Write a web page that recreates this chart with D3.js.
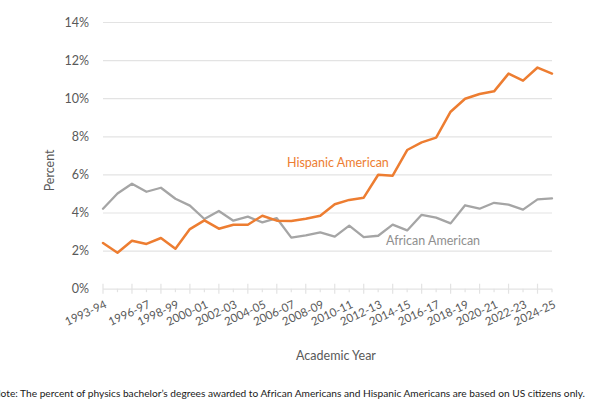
<!DOCTYPE html>
<html>
<head>
<meta charset="utf-8">
<script src="https://cdn.jsdelivr.net/npm/d3@7"></script>
<style>
  html, body { margin: 0; padding: 0; background: #fff; }
  svg { display: block; font-family: Lato, "Open Sans", sans-serif; }
</style>
</head>
<body>
<svg id="chart" width="615" height="410"></svg>
<script>
// ---- data ----
const years = ["1993-94","1994-95","1995-96","1996-97","1997-98","1998-99","1999-00","2000-01",
  "2001-02","2002-03","2003-04","2004-05","2005-06","2006-07","2007-08","2008-09","2009-10",
  "2010-11","2011-12","2012-13","2013-14","2014-15","2015-16","2016-17","2017-18","2018-19",
  "2019-20","2020-21","2021-22","2022-23","2023-24","2024-25"];
const hispanic = [2.40,1.89,2.52,2.35,2.66,2.10,3.13,3.59,3.15,3.36,3.36,3.83,3.57,3.55,3.67,3.83,
  4.43,4.66,4.78,5.98,5.93,7.28,7.68,7.93,9.29,9.97,10.22,10.36,11.29,10.92,11.61,11.29];
const african = [4.20,5.00,5.51,5.09,5.30,4.72,4.36,3.66,4.08,3.57,3.78,3.48,3.70,2.68,2.80,2.96,
  2.73,3.31,2.71,2.78,3.36,3.06,3.88,3.73,3.43,4.38,4.20,4.51,4.41,4.15,4.69,4.74];
const xTickLabels = ["1993-94","1996-97","1998-99","2000-01","2002-03","2004-05","2006-07","2008-09",
  "2010-11","2012-13","2014-15","2016-17","2018-19","2020-21","2022-23","2024-25"];
const yTicks = [0,2,4,6,8,10,12,14];
const seriesNames = ["Hispanic American","African American"];
const yTitle = "Percent";
const xTitle = "Academic Year";
const note = "Note: The percent of physics bachelor\u2019s degrees awarded to African Americans and Hispanic Americans are based on US citizens only.";

// ---- layout ----
const svg = d3.select("#chart");
const pL = 103, pR = 552, pT = 22, pB = 288.7;
const orange = "#ED7D31", gray = "#A5A5A5", textGray = "#595959", gridC = "#e3e3e3";

const x = d3.scalePoint().domain(years).range([pL, pR]);
const y = d3.scaleLinear().domain([0, 14]).range([pB, pT]);

// gridlines + y labels
const yAxis = svg.append("g")
  .attr("transform", `translate(${pL},0)`)
  .call(d3.axisLeft(y).tickValues(yTicks).tickSize(-(pR - pL)).tickPadding(14)
    .tickFormat(d => d + "%"));
yAxis.select(".domain").remove();
yAxis.selectAll(".tick line").attr("stroke", gridC).attr("stroke-width", 1.2);
yAxis.selectAll(".tick text").attr("fill", textGray).style("font-size", "12.5px")
  .style("font-family", "Lato, sans-serif");

// x axis ticks
const xg = svg.append("g");
xg.selectAll("line.tk").data(years).join("line")
  .attr("x1", d => x(d)).attr("x2", d => x(d))
  .attr("y1", (d, i) => i % 2 === 0 ? pB - 5 : pB)
  .attr("y2", (d, i) => i % 2 === 0 ? pB + 5 : pB + 3.5)
  .attr("stroke", gridC).attr("stroke-width", 1.2);

xg.selectAll("text.xl").data(xTickLabels).join("text")
  .attr("transform", d => `translate(${x(d) + 1},${pB + 11}) rotate(-25)`)
  .attr("text-anchor", "end")
  .attr("dy", "0.72em")
  .attr("fill", textGray)
  .style("font-size", "11.5px")
  .text(d => d);

// lines
const line = d3.line().x((d, i) => x(years[i])).y(d => y(d));
svg.append("path").datum(african).attr("d", line)
  .attr("fill", "none").attr("stroke", gray).attr("stroke-width", 2.3)
  .attr("stroke-linejoin", "round").attr("stroke-linecap", "round");
svg.append("path").datum(hispanic).attr("d", line)
  .attr("fill", "none").attr("stroke", orange).attr("stroke-width", 2.5)
  .attr("stroke-linejoin", "round").attr("stroke-linecap", "round");

// series labels
svg.append("text").attr("x", 287).attr("y", 167).attr("fill", orange)
  .style("font-size", "12.5px").text(seriesNames[0]);
svg.append("text").attr("x", 386).attr("y", 244.5).attr("fill", "#8f8f8f")
  .style("font-size", "12.5px").text(seriesNames[1]);

// axis titles
svg.append("text").attr("transform", `translate(54,${(pT + pB) / 2 + 15}) rotate(-90)`)
  .attr("text-anchor", "middle").attr("fill", textGray).style("font-size", "12.5px").text(yTitle);
svg.append("text").attr("x", 336).attr("y", 360).attr("text-anchor", "middle")
  .attr("fill", textGray).style("font-size", "12.5px").text(xTitle);

// note
svg.append("text").attr("x", -7).attr("y", 397).attr("fill", "#1a1a1a")
  .style("font-size", "9.8px").attr("textLength", 592).attr("lengthAdjust", "spacingAndGlyphs")
  .text(note);
</script>
</body>
</html>
